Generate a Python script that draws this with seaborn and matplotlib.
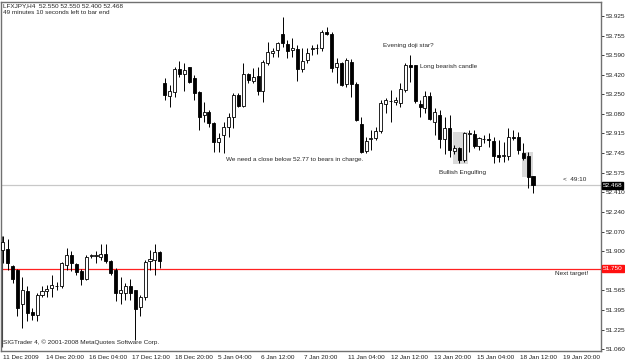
import numpy as np
import matplotlib
matplotlib.use("Agg")
import matplotlib.pyplot as plt
import matplotlib.transforms as mtransforms
from matplotlib.patches import Rectangle
import seaborn as sns

# H4 candles, LFXJPY (Dec block then Jan block)
opens = [51.91, 51.92, 51.77, 51.74, 51.45, 51.56, 51.38, 51.35, 51.52, 51.555, 51.58, 51.605, 51.60,
         51.78, 51.87, 51.79, 51.73, 51.66, 51.86, 51.86, 51.85, 51.88, 51.82, 51.74, 51.545, 51.54,
         51.60, 51.567, 51.42, 51.51, 51.82, 51.825, 51.89,
         53.35, 53.237, 53.271, 53.469, 53.426, 53.486, 53.39, 53.271, 53.073, 53.099, 53.004, 52.841,
         52.90, 52.97, 53.056, 53.245, 53.15, 53.426, 53.365, 53.408, 53.28, 53.52, 53.606, 53.632,
         53.77, 53.684, 53.632, 53.641, 53.469, 53.546, 53.64, 53.645, 53.65, 53.787, 53.77, 53.486,
         53.52, 53.34, 53.529, 53.34, 52.996, 52.763, 52.866, 52.875, 52.935, 53.168, 53.19, 53.185,
         53.176, 53.288, 53.503, 53.50, 53.168, 53.13, 53.237, 53.015, 53.073, 52.864, 52.958, 52.766,
         52.787, 52.686, 52.91, 52.91, 52.806, 52.866, 52.866, 52.852, 52.73, 52.72, 52.72, 52.881,
         52.886, 52.749, 52.72, 52.55]
highs = [52.03, 52.01, 51.78, 51.75, 51.68, 51.60, 51.41, 51.54, 51.60, 51.61, 51.70, 51.64, 51.81,
         51.93, 51.90, 51.80, 51.75, 51.87, 51.88, 51.90, 51.96, 51.96, 51.825, 51.755, 51.68, 51.63,
         51.66, 51.57, 51.52, 51.825, 51.91, 51.96, 51.90,
         53.39, 53.331, 53.486, 53.535, 53.52, 53.49, 53.42, 53.275, 53.185, 53.116, 53.01, 52.918,
         53.013, 53.09, 53.263, 53.263, 53.52, 53.434, 53.478, 53.486, 53.546, 53.70, 53.65, 53.70,
         53.916, 53.718, 53.735, 53.675, 53.65, 53.65, 53.675, 53.684, 53.805, 53.83, 53.787, 53.564,
         53.53, 53.564, 53.555, 53.357, 53.056, 52.884, 52.944, 52.97, 53.202, 53.22, 53.288, 53.228,
         53.348, 53.52, 53.589, 53.503, 53.202, 53.28, 53.27, 53.13, 53.116, 53.058, 53.073, 52.815,
         52.80, 52.93, 52.944, 52.944, 52.886, 52.90, 52.915, 52.886, 52.858, 52.84, 52.958, 52.944,
         52.93, 52.83, 52.757, 52.55]
lows = [51.80, 51.74, 51.63, 51.34, 51.24, 51.30, 51.31, 51.30, 51.51, 51.51, 51.51, 51.57, 51.58,
        51.74, 51.73, 51.70, 51.61, 51.65, 51.84, 51.80, 51.825, 51.80, 51.70, 51.47, 51.45, 51.48,
        51.48, 51.14, 51.34, 51.48, 51.74, 51.70, 51.755,
        53.20, 53.142, 53.228, 53.40, 53.28, 53.35, 53.20, 52.944, 53.013, 52.97, 52.755, 52.755,
        52.746, 52.884, 52.96, 53.142, 53.142, 53.35, 53.35, 53.245, 53.185, 53.503, 53.572, 53.572,
        53.658, 53.564, 53.572, 53.366, 53.443, 53.52, 53.59, 53.60, 53.624, 53.76, 53.443, 53.35,
        53.325, 53.314, 53.228, 53.02, 52.746, 52.746, 52.772, 52.858, 52.918, 53.09, 53.013, 53.159,
        53.142, 53.274, 53.36, 53.174, 53.058, 53.088, 53.03, 52.90, 52.787, 52.74, 52.714, 52.74,
        52.657, 52.67, 52.757, 52.787, 52.772, 52.83, 52.80, 52.657, 52.67, 52.67, 52.686, 52.858,
        52.74, 52.686, 52.442, 52.40]
closes = [51.98, 51.80, 51.66, 51.41, 51.57, 51.37, 51.35, 51.52, 51.56, 51.575, 51.61, 51.60, 51.80,
          51.87, 51.80, 51.725, 51.66, 51.85, 51.865, 51.865, 51.88, 51.82, 51.71, 51.545, 51.567, 51.60,
          51.54, 51.40, 51.51, 51.81, 51.83, 51.89, 51.82,
          53.245, 53.28, 53.469, 53.426, 53.46, 53.357, 53.262, 53.056, 53.099, 53.004, 52.841, 52.875,
          52.97, 53.056, 53.245, 53.15, 53.426, 53.374, 53.40, 53.28, 53.529, 53.615, 53.623, 53.693,
          53.693, 53.624, 53.65, 53.469, 53.538, 53.606, 53.645, 53.65, 53.787, 53.77, 53.477, 53.52,
          53.331, 53.546, 53.34, 53.03, 52.755, 52.849, 52.875, 52.935, 53.176, 53.202, 53.194, 53.202,
          53.297, 53.503, 53.486, 53.19, 53.14, 53.237, 53.036, 53.10, 52.864, 52.958, 52.772, 52.792,
          52.686, 52.915, 52.912, 52.806, 52.873, 52.87, 52.858, 52.723, 52.714, 52.725, 52.881, 52.877,
          52.772, 52.70, 52.542, 52.468]

time_labels = ["11 Dec 2009", "14 Dec 20:00", "16 Dec 04:00", "17 Dec 12:00", "18 Dec 20:00",
               "5 Jan 04:00", "6 Jan 12:00", "7 Jan 20:00", "11 Jan 04:00", "12 Jan 12:00",
               "13 Jan 20:00", "15 Jan 04:00", "18 Jan 12:00", "19 Jan 20:00"]
label_step = 8.78   # time scale of the pasted axis is a bit wider than the candle spacing

price_ticks = [53.925, 53.755, 53.590, 53.420, 53.250, 53.080, 52.915, 52.745, 52.575,
               52.410, 52.240, 52.070, 51.900, 51.565, 51.395, 51.225, 51.060]
price_labels = ["53.925", "53.755", "53.590", "53.420", "53.250", "53.080", "52.915", "52.745", "52.575",
                "52.410", "52.240", "52.070", "51.900", "51.565", "51.395", "51.225", "51.060"]

last_price = 52.468
target_price = 51.750

sns.set_style("white")
plt.rcParams["font.family"] = ["Liberation Sans", "DejaVu Sans"]
fs = 4.6

fig = plt.figure(figsize=(6.25, 3.62), dpi=100)
ax = fig.add_axes([1 / 625, 11 / 362, 600 / 625, 349 / 362])

n = len(opens)
idx = np.arange(n)
o = np.array(opens)
c = np.array(closes)
up = c >= o

# shaded pattern boxes
ax.add_patch(Rectangle((91.8, 52.651), 3.0, 0.276, facecolor="#d9d9d9", edgecolor="none", zorder=1))
ax.add_patch(Rectangle((105.7, 52.537), 2.2, 0.22, facecolor="#d9d9d9", edgecolor="none", zorder=1))

ax.axhline(last_price, color="#c8c8c8", lw=0.9, zorder=1)
ax.axhline(target_price, color="#ff2020", lw=0.9, zorder=1)
ax.vlines(-0.15, 51.08, 52.03, color="#404040", lw=0.8, zorder=2)

ax.vlines(idx, lows, highs, color="black", lw=0.7, zorder=3)
body_h = np.maximum(np.abs(c - o), 0.004)
ax.bar(idx, body_h, bottom=np.minimum(o, c), width=0.62,
       color=np.where(up, "white", "black"), edgecolor="black", linewidth=0.6, zorder=4)

ax.set_xlim(-0.35, 121.85)
ax.set_ylim(51.042, 54.045)

ax.yaxis.tick_right()
ax.set_yticks(price_ticks)
ax.set_yticklabels(price_labels)
ax.tick_params(axis="y", length=2.5, width=0.6, pad=1, labelsize=fs, colors="#202020")
ax.set_xticks(np.arange(len(time_labels)) * label_step)
ax.set_xticklabels(time_labels, ha="left")
ax.tick_params(axis="x", length=2, width=0.6, pad=1, labelsize=fs, colors="#202020")
for s in ax.spines.values():
    s.set_color("#707070")
    s.set_linewidth(1.0)

# price boxes on the axis
tr = mtransforms.blended_transform_factory(ax.transAxes, ax.transData)
ax.text(1.003, last_price, "52.468", transform=tr, fontsize=fs, color="white", va="center", ha="left",
        bbox=dict(boxstyle="square,pad=0.15", facecolor="black", edgecolor="black"), zorder=6)
ax.text(1.003, target_price, "51.750", transform=tr, fontsize=fs, color="white", va="center", ha="left",
        bbox=dict(boxstyle="square,pad=0.15", facecolor="#ff1010", edgecolor="#ff1010"), zorder=6)

# notes
ax.text(45.5, 52.686, "We need a close below 52.77 to bears in charge.", fontsize=fs, va="center")
ax.text(77.5, 53.675, "Evening doji star?", fontsize=fs, va="center")
ax.text(85.0, 53.486, "Long bearish candle", fontsize=fs, va="center")
ax.text(88.9, 52.582, "Bullish Engulfing", fontsize=fs, va="center")
ax.text(114.1, 52.514, "<  49:10", fontsize=fs, va="center")
ax.text(112.5, 51.713, "Next target!", fontsize=fs, va="center")

fig.text(3 / 625, 1 - 6 / 362, "LFXJPY,H4  52.550 52.550 52.400 52.468", fontsize=fs, va="center")
fig.text(3 / 625, 1 - 13 / 362, "49 minutes 10 seconds left to bar end", fontsize=fs, va="center")
fig.text(3 / 625, 1 - 342 / 362, "SIGTrader 4, \u00a9 2001-2008 MetaQuotes Software Corp.", fontsize=fs, va="center")

fig.savefig("out.png", dpi=100)
